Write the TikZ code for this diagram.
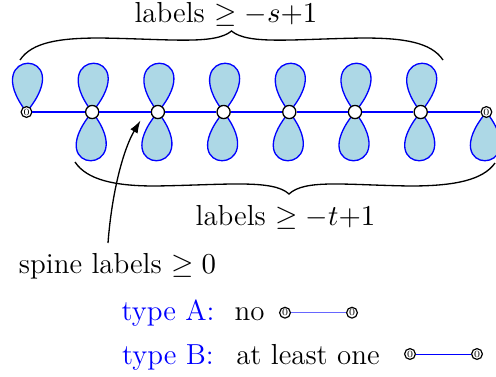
\documentclass[tikz,border=0pt]{standalone}
\usetikzlibrary{arrows.meta}
\definecolor{petal}{RGB}{173,216,230}
\begin{document}
\begin{tikzpicture}[x=0.38pt,y=-0.38pt,
  spinenode/.style={circle,draw=black,fill=white,line width=0.5pt,minimum size=5pt,inner sep=0pt},
  zeronode/.style={circle,draw=black,fill=white,line width=0.45pt,minimum size=4.1pt,inner sep=0pt,font=\fontsize{3.6}{3.6}\selectfont},
  petalpath/.style={draw=blue,fill=petal,line width=0.5pt},
  spineline/.style={blue,line width=0.7pt},
  edgeA/.style={blue!60,line width=0.5pt},
  edgeB/.style={blue,line width=0.35pt},
  bracepath/.style={black,line width=0.5pt},
  lbl/.style={anchor=base,inner sep=0pt,font=\fontsize{11}{13.6}\selectfont},
  typelbl/.style={lbl,text=blue}]
\useasboundingbox (0,0) rectangle (496,376);
% petals
\foreach \x in {26.5,92.2,157.9,223.6,289.3,355,420.7}
  \filldraw[petalpath] (\x,112) .. controls +(-50,-65) and +(54,-65) .. (\x,112);
\foreach \x in {92.2,157.9,223.6,289.3,355,420.7,486.4}
  \filldraw[petalpath] (\x,112) .. controls +(-54,65) and +(50,65) .. (\x,112);
% spine nodes
\node[zeronode] (n0) at (26.5,112) {0};
\foreach \i/\x in {1/92.2,2/157.9,3/223.6,4/289.3,5/355,6/420.7}
  \node[spinenode] (n\i) at (\x,112) {};
\node[zeronode] (n7) at (486.4,112) {0};
\draw[spineline] (n0) -- (n1) -- (n2) -- (n3) -- (n4) -- (n5) -- (n6) -- (n7);
% upper brace
\draw[bracepath] (20,60) .. controls (32,42) and (60,38) .. (100,38)
  .. controls (170,39) and (215,45) .. (231.5,31)
  .. controls (248,45) and (293,39) .. (363,38)
  .. controls (403,38) and (431,42) .. (443,60);
\node[lbl] (slabel) at (226,22.5) {labels $\geq -s{+}1$};
% lower brace
\draw[bracepath] (75,162) .. controls (87,180) and (115,186) .. (155,186)
  .. controls (225,185) and (273,179) .. (289,194)
  .. controls (305,179) and (345,185) .. (410,186)
  .. controls (455,186) and (483,180) .. (495,163);
\node[lbl] (tlabel) at (285.5,225) {labels $\geq -t{+}1$};
% spine label and arrow
\node[lbl] (spinelabel) at (117.5,273.5) {spine labels $\geq 0$};
\coordinate (astart) at (108,243);
\coordinate (aend) at (140.5,120.5);
\draw[-{Latex[length=4.8pt,width=3.2pt]},line width=0.5pt] (astart) .. controls (112,190) and (124,148) .. (aend);
% type A
\node[typelbl] (typeA) at (168,320) {type A:};
\node[lbl] (noA) at (249.5,320) {no};
\node[zeronode] (a1) at (285,312.7) {0};
\node[zeronode] (a2) at (352,312.7) {0};
\draw[edgeA] (a1) -- (a2);
% type B
\node[typelbl] (typeB) at (168,364) {type B:};
\node[lbl] (oneB) at (308,364) {at least one};
\node[zeronode] (b1) at (410,354) {0};
\node[zeronode] (b2) at (477,354) {0};
\draw[edgeB] (b1) -- (b2);
\end{tikzpicture}
\end{document}
